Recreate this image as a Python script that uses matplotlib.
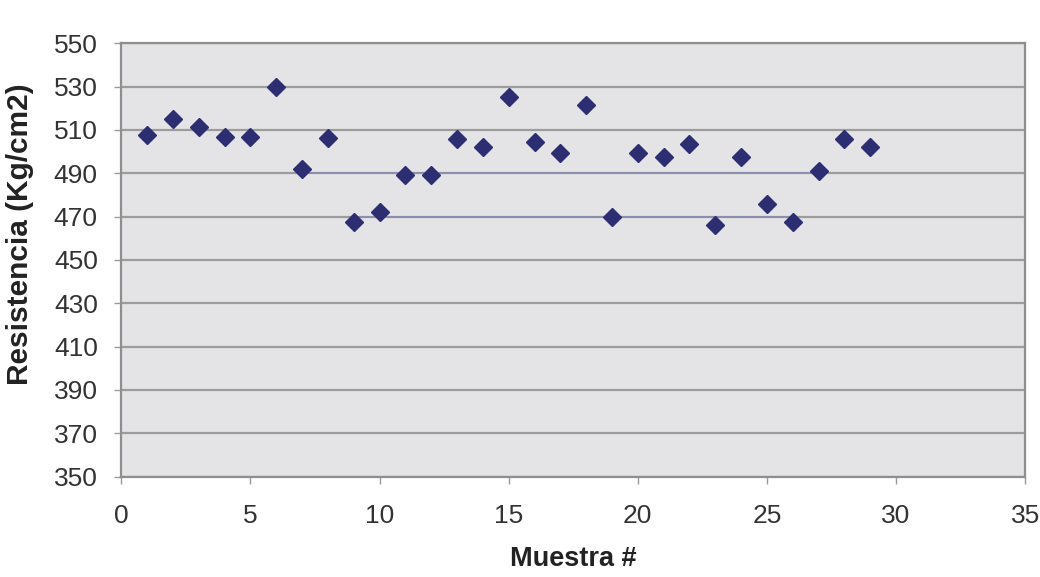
import matplotlib
matplotlib.use("Agg")
import matplotlib.pyplot as plt

# resistencia a la compresion por muestra
muestra = list(range(1, 30))
resistencia = [507.7, 514.9, 511.5, 506.9, 506.9, 530.0, 491.8, 506.1, 467.7, 472.3,
               489.2, 489.2, 505.7, 502.0, 525.0, 504.6, 499.2, 521.6, 470.0, 499.2,
               497.7, 503.4, 466.2, 497.7, 475.9, 467.7, 491.2, 505.7, 502.0]

# limites de control (superior, inferior)
limites = [490, 470]
lim_desde = [7, 9]
lim_hasta = [27, 26]

plt.rcParams['font.family'] = ['Liberation Sans', 'DejaVu Sans']

fig = plt.figure(figsize=(10.4, 5.77), dpi=100)
ax = fig.add_axes([0.1167, 0.174, 0.869, 0.751])
ax.set_facecolor('#e4e4e6')

ax.set_xlim(0, 35)
ax.set_ylim(350, 550)
ax.set_xticks(range(0, 36, 5))
ax.set_yticks(range(350, 551, 20))
ax.yaxis.grid(True, color='#9c9c9c', lw=1.6)
ax.set_axisbelow(True)

for lim, a, b in zip(limites, lim_desde, lim_hasta):
    ax.plot([a, b], [lim, lim], color='#8a8db0', lw=1.3, zorder=2)

ax.plot(muestra, resistencia, ls='none', marker='D', ms=8.8,
        color='#2d2e72', mec='#2d2e72', zorder=3)

for s in ax.spines.values():
    s.set_color('#8e8e8e')
    s.set_linewidth(1.6)

ax.tick_params(axis='both', colors='#9a9a9a', labelcolor='#333333',
               labelsize=19, length=5, width=1)
ax.tick_params(axis='x', pad=15)
ax.tick_params(axis='y', pad=12)

ax.set_xlabel('Muestra #', fontsize=19.5, fontweight='bold', color='#222222', labelpad=13)
ax.set_ylabel('Resistencia (Kg/cm2)', fontsize=21.5, fontweight='bold', color='#222222')
ax.yaxis.set_label_coords(-0.097, 0.56)

fig.savefig('out.png', dpi=100, facecolor='white')
